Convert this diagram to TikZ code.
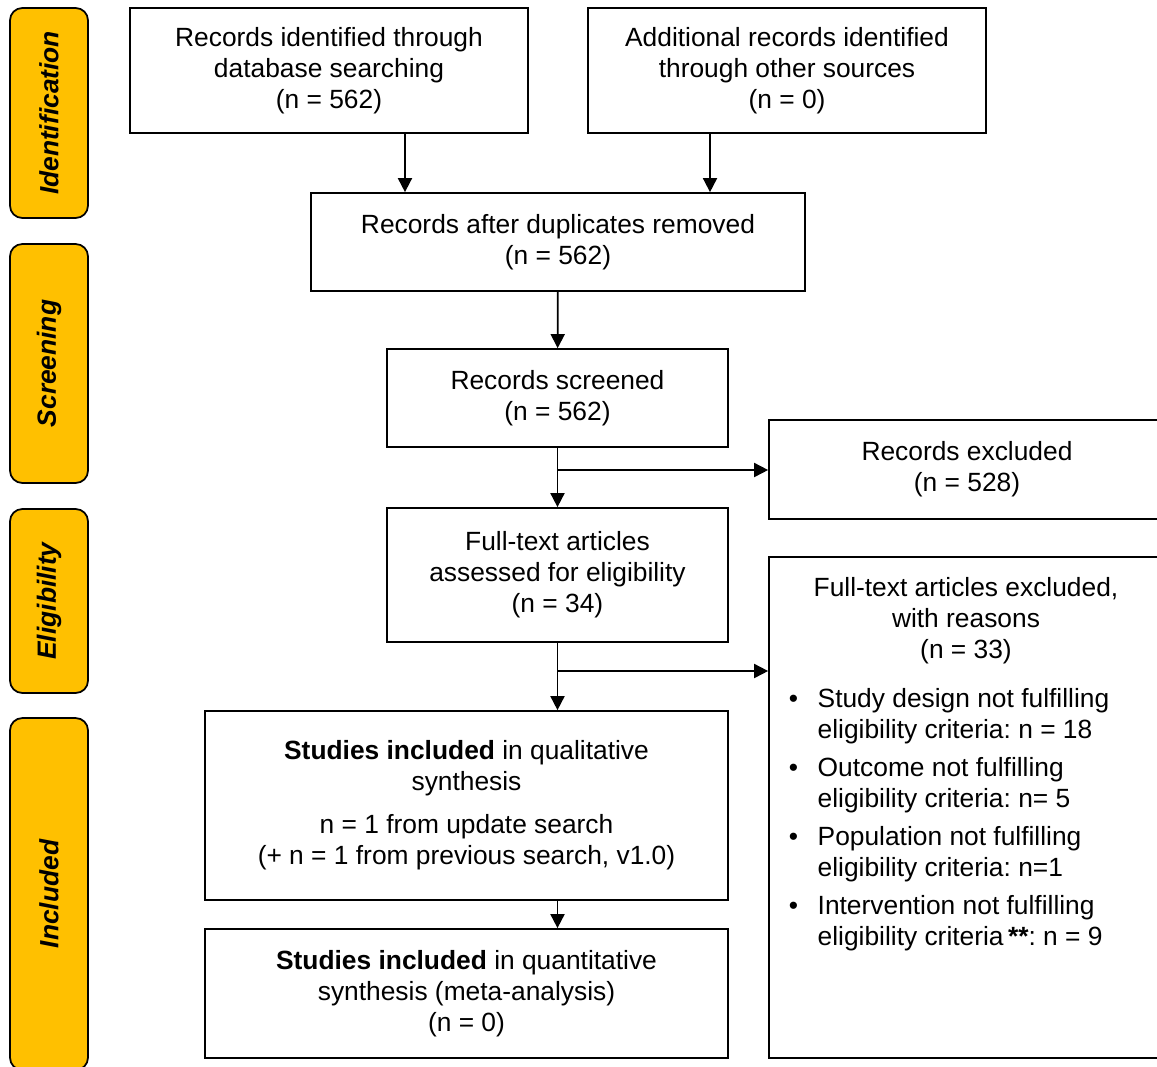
\documentclass[tikz,border=0pt]{standalone}
\usepackage{fontspec}
\setmainfont{Liberation Sans}
\usetikzlibrary{arrows.meta}
\definecolor{phasegold}{HTML}{FFC000}
\frenchspacing
\newcommand{\reason}[2]{\makebox[16.4pt][l]{\textbullet}#1\\\hspace*{16.4pt}#2}

\begin{document}
\begin{tikzpicture}[x=0.02cm, y=-0.02cm, line width=1pt,
    >={Triangle[length=8pt,width=8pt]},
    every node/.style={font=\fontsize{15}{17.6}\selectfont},
    box/.style={draw=black, inner sep=0pt, align=center},
    phase/.style={draw=black, fill=phasegold, rounded corners=7pt, rotate=90,
      minimum height=1.56cm, inner sep=0pt,
      font=\fontsize{15}{17.6}\selectfont\bfseries\itshape}]
    \clip (0,0) rectangle (1157,1066);
    % phase labels
    \node[phase, minimum width=4.2cm] at (49,113) (idl) {Identification};
    \node[phase, minimum width=4.78cm] at (49,363.5) (scl) {Screening};
    \node[phase, minimum width=3.68cm] at (49,601) (ell) {Eligibility};
    \node[phase, minimum width=7.04cm] at (49,894) (inl) {Included};
    % boxes
    \node[box, minimum width=7.96cm, minimum height=2.5cm] at (329,70.5) (rid) {Records identified through\\database searching\\(n = 562)};
    \node[box, minimum width=7.96cm, minimum height=2.5cm] at (787,70.5) (rot) {Additional records identified\\through other sources\\(n = 0)};
    \node[box, minimum width=9.88cm, minimum height=1.96cm] at (558,242) (dup) {Records after duplicates removed\\(n = 562)};
    \node[box, minimum width=6.82cm, minimum height=1.96cm] at (557.5,398) (scr) {Records screened\\(n = 562)};
    \node[box, minimum width=7.92cm, minimum height=1.98cm] at (967,469.5) (exc) {Records excluded\\(n = 528)};
    \node[box, minimum width=6.82cm, minimum height=2.68cm] at (557.5,575) (fta) {Full-text articles\\assessed for eligibility\\(n = 34)};
    \node[box, minimum width=7.92cm, minimum height=10.02cm] at (967,807.5) (fte) {};
    \node[align=center, inner sep=0pt] at (966,621) (fteh) {Full-text articles excluded,\\with reasons\\(n = 33)};
    \node[anchor=north west, align=left, inner sep=0pt] at (788,688) (ftel) {\reason{Study design not fulfilling}{eligibility criteria: n = 18}\\[4pt]
      \reason{Outcome not fulfilling}{eligibility criteria: n= 5}\\[4pt]
      \reason{Population not fulfilling}{eligibility criteria: n=1}\\[4pt]
      \reason{Intervention not fulfilling}{eligibility criteria\,\textbf{**}: n = 9}};
    \node[box, minimum width=10.46cm, minimum height=3.78cm] at (466.5,805.5) (qual) {\textbf{Studies included} in qualitative\\synthesis\\[7pt]n = 1 from update search\\(+ n = 1 from previous search, v1.0)};
    \node[box, minimum width=10.46cm, minimum height=2.58cm] at (466.5,993.5) (quan) {\textbf{Studies included} in quantitative\\synthesis (meta-analysis)\\(n = 0)};
    % connectors
    \coordinate (br1) at (558,470);
    \coordinate (br2) at (558,671);
    \path [->] ([xshift=1.52cm]rid.south) edge ([xshift=1.52cm]rid.south |- dup.north);
    \path [->] ([xshift=-1.54cm]rot.south) edge ([xshift=-1.54cm]rot.south |- dup.north);
    \path [->] (dup) edge (scr);
    \path [->] (scr) edge (fta);
    \path [->] (br1) edge (br1 -| exc.west);
    \path [->] (fta.south) edge (fta.south |- qual.north);
    \path [->] (br2) edge (br2 -| fte.west);
    \path [->] (qual.south -| fta.south) edge (fta.south |- quan.north);
\end{tikzpicture}
\end{document}
